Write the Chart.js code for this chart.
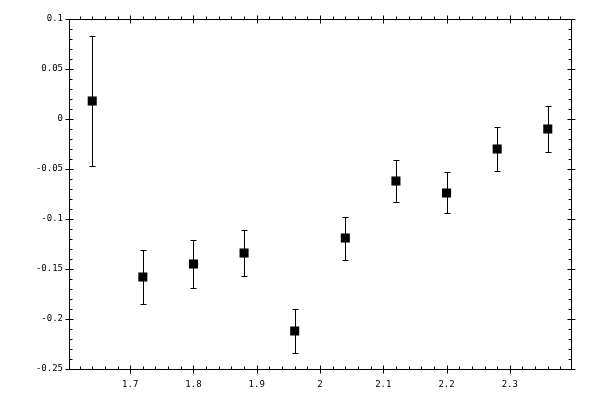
<!DOCTYPE html>
<html>
<head>
<meta charset="utf-8">
<script src="https://cdn.jsdelivr.net/npm/chart.js@4"></script>
<style>
  html, body { margin: 0; padding: 0; background: #fff; }
  #wrap { width: 600px; height: 400px; }
</style>
</head>
<body>
<div id="wrap"><canvas id="chart" width="600" height="400"></canvas></div>
<script>
const xValues = [1.64, 1.72, 1.80, 1.88, 1.96, 2.04, 2.12, 2.20, 2.28, 2.36];
const yValues = [0.018, -0.158, -0.145, -0.134, -0.212, -0.119, -0.062, -0.074, -0.030, -0.010];
const yErrors = [0.065, 0.027, 0.0235, 0.023, 0.022, 0.0215, 0.021, 0.0205, 0.0215, 0.023];

const xMajorStep = 0.1, xMinorStep = 0.02;
const yMajorStep = 0.05, yMinorStep = 0.01;

const fmt = v => String(+v.toFixed(2));

// vertical error bars with small caps, drawn under the markers
const errorBars = {
  id: "errorBars",
  beforeDatasetsDraw(chart) {
    const { ctx, scales: { x, y } } = chart;
    ctx.save();
    ctx.strokeStyle = "#000";
    ctx.lineWidth = 1;
    ctx.beginPath();
    xValues.forEach((xv, i) => {
      const px = Math.round(x.getPixelForValue(xv)) + 0.5;
      const top = Math.round(y.getPixelForValue(yValues[i] + yErrors[i])) + 0.5;
      const bot = Math.round(y.getPixelForValue(yValues[i] - yErrors[i])) + 0.5;
      ctx.moveTo(px, top); ctx.lineTo(px, bot);
      ctx.moveTo(px - 3, top); ctx.lineTo(px + 3, top);
      ctx.moveTo(px - 3, bot); ctx.lineTo(px + 3, bot);
    });
    ctx.stroke();
    ctx.restore();
  }
};

// box frame with major (crossing) and minor ticks on all four sides
const frameTicks = {
  id: "frameTicks",
  afterDraw(chart) {
    const { ctx, chartArea: a, scales: { x, y } } = chart;
    const L = a.left + 0.5, R = a.right + 0.5, T = a.top + 0.5, B = a.bottom + 0.5;
    ctx.save();
    ctx.strokeStyle = "#000";
    ctx.lineWidth = 1;
    ctx.beginPath();
    ctx.rect(L, T, R - L, B - T);

    const isMajor = (v, step) => Math.abs(v / step - Math.round(v / step)) < 1e-6;

    for (let k = Math.ceil(x.min / xMinorStep - 1e-9); k * xMinorStep <= x.max + 1e-9; k++) {
      const v = k * xMinorStep;
      const px = Math.round(x.getPixelForValue(v)) + 0.5;
      if (isMajor(v, xMajorStep)) {
        ctx.moveTo(px, B - 4); ctx.lineTo(px, B + 4);
        ctx.moveTo(px, T - 4); ctx.lineTo(px, T + 4);
      } else {
        ctx.moveTo(px, B - 3); ctx.lineTo(px, B);
        ctx.moveTo(px, T - 3); ctx.lineTo(px, T);
      }
    }
    for (let k = Math.ceil(y.min / yMinorStep - 1e-9); k * yMinorStep <= y.max + 1e-9; k++) {
      const v = k * yMinorStep;
      const py = Math.round(y.getPixelForValue(v)) + 0.5;
      if (isMajor(v, yMajorStep)) {
        ctx.moveTo(L - 4, py); ctx.lineTo(L + 4, py);
        ctx.moveTo(R - 4, py); ctx.lineTo(R + 4, py);
      } else {
        ctx.moveTo(L, py); ctx.lineTo(L + 3, py);
        ctx.moveTo(R - 3, py); ctx.lineTo(R, py);
      }
    }
    ctx.stroke();
    ctx.restore();
  }
};

const tickFont = { family: "'DejaVu Sans Mono', monospace", size: 9 };

new Chart(document.getElementById("chart"), {
  type: "scatter",
  data: {
    datasets: [{
      data: xValues.map((xv, i) => ({ x: xv, y: yValues[i] })),
      pointStyle: "rect",
      pointRadius: 6.4,
      pointHoverRadius: 6.4,
      backgroundColor: "#000",
      borderWidth: 0
    }]
  },
  options: {
    responsive: false,
    animation: false,
    devicePixelRatio: 1,
    layout: { padding: { top: 19, right: 29, left: 0, bottom: 0 } },
    plugins: { legend: { display: false }, tooltip: { enabled: false } },
    scales: {
      x: {
        type: "linear",
        min: 1.6033,
        max: 2.3967,
        grid: { display: false, drawTicks: false },
        border: { display: false },
        ticks: {
          stepSize: xMajorStep,
          includeBounds: false,
          autoSkip: false,
          maxRotation: 0,
          padding: 10,
          color: "#000",
          font: tickFont,
          callback: fmt
        },
        afterFit: s => { s.height = 31; }
      },
      y: {
        min: -0.25,
        max: 0.1,
        grid: { display: false, drawTicks: false },
        border: { display: false },
        ticks: {
          stepSize: yMajorStep,
          includeBounds: false,
          autoSkip: false,
          padding: 6,
          color: "#000",
          font: tickFont,
          callback: fmt
        },
        afterFit: s => { s.width = 69; }
      }
    }
  },
  plugins: [errorBars, frameTicks]
});
</script>
</body>
</html>
